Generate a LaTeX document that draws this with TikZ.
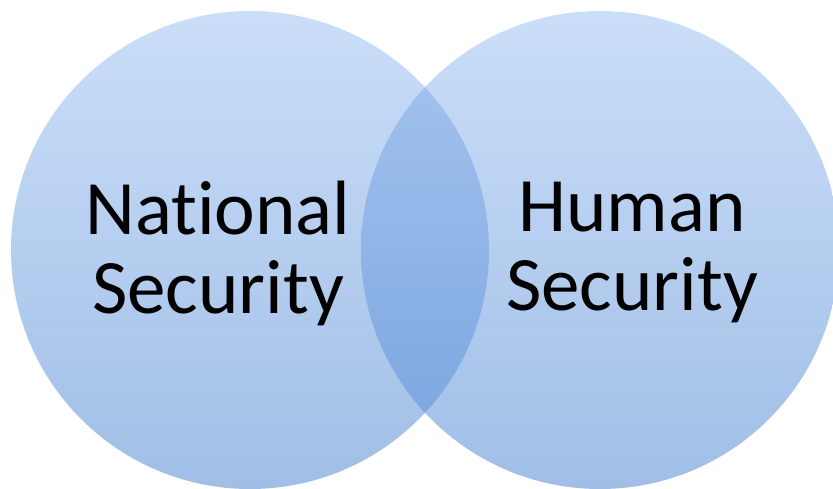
\documentclass[tikz,border=0pt]{standalone}
\usepackage{fontspec}
\setmainfont[Ligatures=NoCommon]{Carlito}
\begin{document}
\begin{tikzpicture}[x=1pt,y=-1pt,
  setcircle/.style={top color=setTop,bottom color=setBottom,draw=none},
  setlabel/.style={align=center,font=\fontsize{77}{79}\selectfont,text=black,inner sep=0pt}]
\definecolor{setTop}{RGB}{203,222,249}
\definecolor{setBottom}{RGB}{160,190,230}
\definecolor{lensTop}{RGB}{168,198,240}
\definecolor{lensBottom}{RGB}{118,163,222}
\useasboundingbox (0,0) rectangle (833,489);
% the two sets
\shade[setcircle] (250,250) circle (239);
\shade[setcircle] (600,250) circle (239);
% their overlap
\begin{scope}
  \clip (250,250) circle (239);
  \shade[top color=lensTop,bottom color=lensBottom] (600,250) circle (239);
\end{scope}
\node[setlabel] (national) at (218,253) {National\\Security};
\node[setlabel] (human) at (632,253) {Human\\Security};
\end{tikzpicture}
\end{document}
